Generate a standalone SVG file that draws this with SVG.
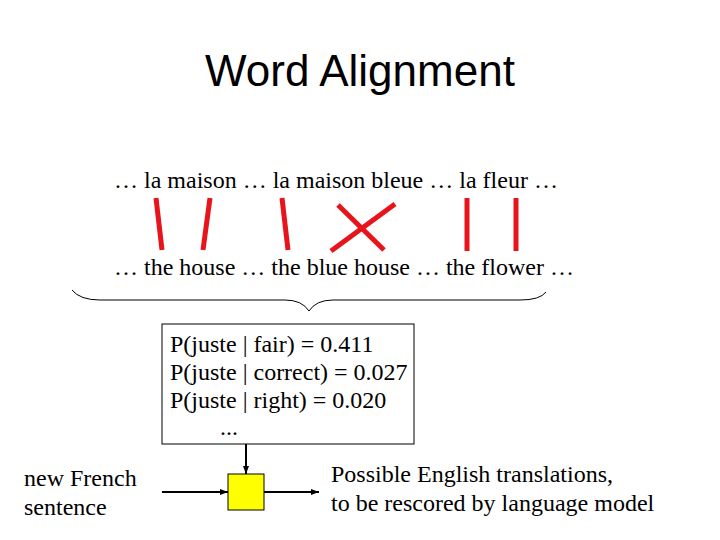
<svg xmlns="http://www.w3.org/2000/svg" width="720" height="540" viewBox="0 0 720 540">
<style>
.t{font-family:"Liberation Serif","Times New Roman",serif;font-size:24px;fill:#000}
.title{font-family:"Liberation Sans",Arial,sans-serif;font-size:44px;fill:#000}
.al{stroke:#E8141C;stroke-width:5;fill:none}
.c{stroke:#000;stroke-width:2;fill:none}
</style>
<defs>
<marker id="ah" markerWidth="8" markerHeight="8" refX="8" refY="4" orient="auto" markerUnits="userSpaceOnUse">
<path d="M0,1 L8,4 L0,7 Z" fill="#000"/>
</marker>
</defs>
<rect width="720" height="540" fill="#fff"/>
<text class="title" x="360" y="86" text-anchor="middle">Word Alignment</text>
<g id="french">
<text class="t" x="114" y="188">… la maison … la maison bleue … la fleur …</text>
</g>
<g id="english">
<text class="t" x="114" y="275">… the house … the blue house … the flower …</text>
</g>
<g id="alignments">
<line class="al" x1="156" y1="198" x2="162" y2="250"/>
<line class="al" x1="210" y1="198" x2="203" y2="250"/>
<line class="al" x1="282" y1="198" x2="288" y2="250"/>
<line class="al" x1="395" y1="204" x2="331" y2="251"/>
<line class="al" x1="338" y1="205" x2="384" y2="250"/>
<line class="al" x1="467" y1="198" x2="467" y2="251"/>
<line class="al" x1="516" y1="198" x2="516" y2="251"/>
</g>
<g id="brace">
<path d="M72,290 Q80,300 100,300 L285,300 Q302,300 309,311 Q316,300 333,300 L520,300 Q540,300 546,292" fill="none" stroke="#000" stroke-width="1"/>
</g>
<g id="probbox">
<rect x="162" y="324" width="252" height="120" fill="#fff" stroke="#000" stroke-width="1"/>
<text class="t" x="170" y="352">P(juste | fair) = 0.411</text>
<text class="t" x="170" y="380">P(juste | correct) = 0.027</text>
<text class="t" x="170" y="408">P(juste | right) = 0.020</text>
<text class="t" x="220" y="435">...</text>
</g>
<g id="input">
<text class="t" x="24" y="486">new French</text>
<text class="t" x="24" y="515">sentence</text>
</g>
<g id="decoder">
<rect x="228" y="474" width="36" height="36" fill="#FFFF00" stroke="#000" stroke-width="1"/>
</g>
<g id="output">
<text class="t" x="331" y="482">Possible English translations,</text>
<text class="t" x="331" y="511">to be rescored by language model</text>
</g>
<g id="connectors">
<line class="c" x1="246" y1="444" x2="246" y2="474" marker-end="url(#ah)"/>
<line class="c" x1="162" y1="492" x2="228" y2="492" marker-end="url(#ah)"/>
<line class="c" x1="264" y1="492" x2="319" y2="492" marker-end="url(#ah)"/>
</g>
</svg>
